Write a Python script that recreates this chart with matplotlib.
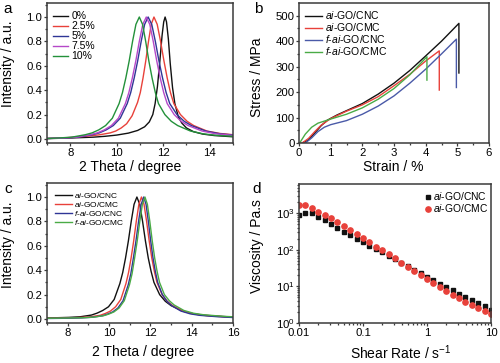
import matplotlib
matplotlib.use('Agg')
import matplotlib.pyplot as plt
from matplotlib.ticker import (MultipleLocator, LogLocator, NullFormatter, FixedLocator,
                               FixedFormatter, FormatStrFormatter)

plt.rcParams['font.family'] = ['Liberation Sans', 'DejaVu Sans']
plt.rcParams['mathtext.fontset'] = 'custom'
plt.rcParams['mathtext.rm'] = 'Liberation Sans'
plt.rcParams['mathtext.it'] = 'Liberation Sans:italic'
plt.rcParams['mathtext.bf'] = 'Liberation Sans:bold'

# ---------------- Panel a: XRD, GO content ----------------
a_labels = ['0%', '2.5%', '5%', '7.5%', '10%']
a0_x = [7.0, 8.0, 9.0, 9.5, 10.0, 10.5, 10.9, 11.2, 11.4, 11.55, 11.65, 11.75, 11.85, 11.95, 12.02, 12.08,
        12.14, 12.22, 12.3, 12.4, 12.5, 12.65, 12.8, 13.0, 13.3, 13.7, 14.2, 15.0]
a0_y = [0.003, 0.008, 0.015, 0.022, 0.032, 0.048, 0.07, 0.1, 0.14, 0.2, 0.29, 0.43, 0.63, 0.85, 0.96, 1.0,
        0.96, 0.82, 0.62, 0.42, 0.29, 0.18, 0.13, 0.09, 0.06, 0.04, 0.028, 0.018]
a25_x = [7.0, 8.0, 8.78, 9.25, 9.72, 9.955, 10.19, 10.425, 10.66, 10.895, 11.0125, 11.13, 11.2475, 11.365, 11.4825, 11.6,
         11.74, 11.885, 12.03, 12.17, 12.31, 12.455, 12.74, 13.025, 13.31, 13.88, 14.45, 15.0]
a25_y = [0.004, 0.012, 0.024, 0.034, 0.05, 0.065, 0.09, 0.125, 0.19, 0.3, 0.38, 0.5, 0.64, 0.8, 0.94, 1.0,
         0.94, 0.8, 0.64, 0.5, 0.38, 0.29, 0.2, 0.145, 0.11, 0.065, 0.045, 0.035]
a5_x = [7.0, 7.75, 8.35, 8.95, 9.25, 9.55, 9.85, 10.15, 10.45, 10.6, 10.75, 10.9, 11.05, 11.2, 11.35,
        11.505, 11.66, 11.815, 11.97, 12.125, 12.28, 12.59, 12.9, 13.21, 13.83, 14.45, 15.0]
a5_y = [0.004, 0.008, 0.015, 0.035, 0.05, 0.075, 0.11, 0.17, 0.29, 0.38, 0.5, 0.64, 0.8, 0.94, 1.0,
        0.94, 0.8, 0.64, 0.5, 0.38, 0.29, 0.2, 0.145, 0.11, 0.065, 0.042, 0.033]
a75_x = [7.0, 7.67, 8.27, 8.87, 9.17, 9.47, 9.77, 10.07, 10.37, 10.52, 10.67, 10.82, 10.97, 11.12, 11.27,
         11.42, 11.57, 11.72, 11.87, 12.02, 12.17, 12.47, 12.77, 13.07, 13.67, 14.27, 15.0]
a75_y = [0.004, 0.008, 0.015, 0.035, 0.05, 0.075, 0.11, 0.17, 0.29, 0.38, 0.5, 0.64, 0.8, 0.94, 1.0,
         0.94, 0.8, 0.64, 0.5, 0.38, 0.29, 0.2, 0.145, 0.11, 0.065, 0.042, 0.03]
a10_x = [7.0, 7.49, 8.07, 8.65, 8.94, 9.23, 9.52, 9.81, 10.1, 10.245, 10.39, 10.535, 10.68, 10.825, 10.97,
         11.11, 11.245, 11.38, 11.52, 11.66, 11.795, 12.07, 12.345, 12.62, 13.17, 13.72, 14.27, 15.0]
a10_y = [0.004, 0.008, 0.015, 0.035, 0.05, 0.075, 0.11, 0.17, 0.29, 0.38, 0.5, 0.64, 0.8, 0.94, 1.0,
         0.94, 0.8, 0.64, 0.5, 0.38, 0.29, 0.2, 0.145, 0.11, 0.065, 0.042, 0.03, 0.022]

# ---------------- Panel b: stress-strain ----------------
b_labels = [r'$\mathit{ai}$-GO/CNC', r'$\mathit{ai}$-GO/CMC',
            r'$\mathit{f}$-$\mathit{ai}$-GO/CNC', r'$\mathit{f}$-$\mathit{ai}$-GO/CMC']
b1_x = [0.1, 0.3, 0.5, 0.7, 0.9, 1.2, 1.5, 2.0, 2.5, 3.0, 3.5, 4.0, 4.5, 5.05, 5.05]
b1_y = [0, 12, 40, 68, 90, 110, 127, 155, 192, 235, 285, 342, 400, 470, 275]
b2_x = [0.1, 0.3, 0.5, 0.7, 1.0, 1.5, 2.0, 2.5, 3.0, 3.5, 4.0, 4.43, 4.43]
b2_y = [0, 18, 45, 70, 96, 125, 150, 182, 225, 270, 322, 362, 208]
b3_x = [0.2, 0.4, 0.6, 0.8, 1.0, 1.5, 2.0, 2.5, 3.0, 3.5, 4.0, 4.5, 4.97, 4.97]
b3_y = [0, 20, 45, 62, 72, 88, 113, 145, 185, 235, 290, 350, 408, 218]
b4_x = [0.02, 0.2, 0.4, 0.6, 0.8, 1.0, 1.5, 2.0, 2.5, 3.0, 3.5, 4.04, 4.04]
b4_y = [0, 35, 62, 78, 86, 94, 113, 138, 172, 214, 268, 339, 247]

# ---------------- Panel c: XRD, films ----------------
c1_x = [7.0, 8.05, 8.6, 9.15, 9.425, 9.7, 9.975, 10.25, 10.525, 10.6625, 10.8, 10.9375, 11.075, 11.2125, 11.35,
        11.4875, 11.625, 11.7625, 11.9, 12.0375, 12.175, 12.45, 12.725, 13.0, 13.55, 14.1, 14.65, 15.75, 16.0]
c1_y = [0.008, 0.013, 0.018, 0.032, 0.048, 0.07, 0.1, 0.16, 0.29, 0.38, 0.5, 0.64, 0.8, 0.94, 1.0,
        0.94, 0.8, 0.64, 0.5, 0.39, 0.3, 0.2, 0.145, 0.11, 0.065, 0.042, 0.03, 0.018, 0.016]
c2_x = [7.0, 8.0, 8.57, 9.07, 9.57, 9.82, 10.07, 10.32, 10.57, 10.82, 10.945, 11.07, 11.195, 11.32, 11.445, 11.57,
        11.695, 11.82, 11.945, 12.07, 12.195, 12.32, 12.57, 12.82, 13.07, 13.57, 14.07, 14.57, 15.57, 16.0]
c2_y = [0.006, 0.009, 0.012, 0.017, 0.03, 0.045, 0.065, 0.1, 0.16, 0.29, 0.38, 0.5, 0.64, 0.8, 0.94, 1.0,
        0.94, 0.8, 0.64, 0.5, 0.39, 0.3, 0.2, 0.145, 0.11, 0.065, 0.042, 0.03, 0.018, 0.015]
c3_x = [7.0, 8.0, 8.68, 9.18, 9.68, 9.93, 10.18, 10.43, 10.68, 10.93, 11.055, 11.18, 11.305, 11.43, 11.555, 11.68,
        11.7925, 11.905, 12.0175, 12.13, 12.2425, 12.355, 12.58, 12.805, 13.03, 13.48, 13.93, 14.38, 15.28, 16.0]
c3_y = [0.004, 0.006, 0.009, 0.014, 0.026, 0.04, 0.058, 0.09, 0.15, 0.28, 0.37, 0.5, 0.64, 0.8, 0.94, 1.0,
        0.94, 0.8, 0.64, 0.5, 0.39, 0.3, 0.2, 0.145, 0.11, 0.065, 0.042, 0.03, 0.018, 0.012]
c4_x = [7.0, 8.0, 8.74, 9.24, 9.74, 9.99, 10.24, 10.49, 10.74, 10.99, 11.115, 11.24, 11.365, 11.49, 11.615, 11.74,
        11.8575, 11.975, 12.0925, 12.21, 12.3275, 12.445, 12.68, 12.915, 13.15, 13.62, 14.09, 14.56, 15.5, 16.0]
c4_y = [0.006, 0.008, 0.01, 0.015, 0.027, 0.04, 0.058, 0.09, 0.15, 0.28, 0.37, 0.5, 0.64, 0.8, 0.94, 1.0,
        0.94, 0.8, 0.64, 0.5, 0.39, 0.3, 0.2, 0.15, 0.115, 0.07, 0.047, 0.035, 0.022, 0.018]

# ---------------- Panel d: viscosity ----------------
d_labels = [r'$\mathit{ai}$-GO/CNC', r'$\mathit{ai}$-GO/CMC']
d_rate = [0.01, 0.0126, 0.0158, 0.02, 0.0251, 0.0316, 0.0398, 0.0501, 0.0631, 0.0794,
          0.1, 0.126, 0.158, 0.2, 0.251, 0.316, 0.398, 0.501, 0.631, 0.794,
          1.0, 1.26, 1.58, 2.0, 2.51, 3.16, 3.98, 5.01, 6.31, 7.94, 10.0]
d_cnc = [900, 1043, 1000, 811, 658, 512, 406, 316, 257, 204,
         162, 131, 104, 85, 69, 56, 45, 36, 28.5, 22.6,
         18, 14.6, 11.8, 9.6, 7.8, 6.4, 5.3, 4.3, 3.5, 2.85, 2.2]
d_cmc = [1653, 1722, 1369, 1110, 901, 731, 568, 451, 351, 273,
         208, 162, 123, 96, 78, 58, 45, 35, 26.7, 20.4,
         15.8, 12.3, 9.6, 7.6, 5.9, 4.7, 3.7, 3.1, 2.56, 2.17, 1.8]

BLACK = '#111111'
RED = '#e8413a'
BLUE = '#2f3596'
PURPLE = '#b548c8'
GREEN = '#23913a'
BLUE_B = '#4a5aa8'
GREEN_B = '#4aab46'

W, H = 500.0, 363.0
fig = plt.figure(figsize=(5.0, 3.63), dpi=100)


def add_ax(l, t, r, b):
    return fig.add_axes([l / W, 1 - b / H, (r - l) / W, (b - t) / H])


ax_a = add_ax(47, 3, 233, 143)
ax_b = add_ax(299, 3, 489, 143)
ax_c = add_ax(47, 183, 233, 323)
ax_d = add_ax(299, 184, 491, 323)

TICK_FS = 8.2
LABEL_FS = 10
for ax in (ax_a, ax_b, ax_c, ax_d):
    for s in ax.spines.values():
        s.set_linewidth(1.1)
        s.set_color('#3a3a3a')
    ax.tick_params(which='both', direction='out', labelsize=TICK_FS, width=0.9, color='#3a3a3a', pad=1.0)
    ax.tick_params(which='major', length=2.3)
    ax.tick_params(which='minor', length=1.6)

LW = 1.0
leg_kw = dict(frameon=False, borderpad=0.0, borderaxespad=0.0, labelspacing=0.0)

# Panel a
for xs, ys, col, lab in [(a0_x, a0_y, BLACK, a_labels[0]), (a25_x, a25_y, RED, a_labels[1]),
                         (a5_x, a5_y, BLUE, a_labels[2]), (a75_x, a75_y, PURPLE, a_labels[3]),
                         (a10_x, a10_y, GREEN, a_labels[4])]:
    ax_a.plot(xs, ys, color=col, lw=LW, label=lab)
ax_a.set_xlim(7, 15)
ax_a.set_ylim(-0.033, 1.115)
ax_a.xaxis.set_major_locator(FixedLocator([8, 10, 12, 14]))
ax_a.xaxis.set_minor_locator(FixedLocator([7, 9, 11, 13, 15]))
ax_a.yaxis.set_major_locator(MultipleLocator(0.2))
ax_a.yaxis.set_minor_locator(MultipleLocator(0.1))
ax_a.yaxis.set_major_formatter(FormatStrFormatter('%.1f'))
ax_a.set_xlabel('2 Theta / degree', fontsize=LABEL_FS)
ax_a.set_ylabel('Intensity / a.u.', fontsize=LABEL_FS)
ax_a.xaxis.set_label_coords(0.449, -0.122)
ax_a.yaxis.set_label_coords(-0.172, 0.564)
ax_a.legend(loc='upper left', bbox_to_anchor=(0.032, 0.94), fontsize=7.5,
            handlelength=1.45, handletextpad=0.3, **leg_kw)

# Panel b
for xs, ys, col, lab in [(b1_x, b1_y, BLACK, b_labels[0]), (b2_x, b2_y, RED, b_labels[1]),
                         (b3_x, b3_y, BLUE_B, b_labels[2]), (b4_x, b4_y, GREEN_B, b_labels[3])]:
    ax_b.plot(xs, ys, color=col, lw=LW, label=lab)
ax_b.set_xlim(0, 6)
ax_b.set_ylim(0, 550)
ax_b.xaxis.set_major_locator(MultipleLocator(1))
ax_b.xaxis.set_minor_locator(MultipleLocator(0.5))
ax_b.yaxis.set_major_locator(FixedLocator([0, 100, 200, 300, 400, 500]))
ax_b.yaxis.set_minor_locator(FixedLocator([50, 150, 250, 350, 450]))
ax_b.set_xlabel('Strain / %', fontsize=LABEL_FS)
ax_b.set_ylabel('Stress / MPa', fontsize=LABEL_FS)
ax_b.xaxis.set_label_coords(0.495, -0.122)
ax_b.yaxis.set_label_coords(-0.184, 0.468)
ax_b.legend(loc='upper left', bbox_to_anchor=(0.032, 0.955), fontsize=7.5,
            handlelength=1.65, handletextpad=0.3, **leg_kw)

# Panel c
for xs, ys, col, lab in [(c1_x, c1_y, BLACK, b_labels[0]), (c2_x, c2_y, RED, b_labels[1]),
                         (c3_x, c3_y, BLUE, b_labels[2]), (c4_x, c4_y, GREEN_B, b_labels[3])]:
    ax_c.plot(xs, ys, color=col, lw=LW, label=lab)
ax_c.set_xlim(7, 16)
ax_c.set_ylim(-0.033, 1.115)
ax_c.xaxis.set_major_locator(FixedLocator([8, 10, 12, 14, 16]))
ax_c.xaxis.set_minor_locator(FixedLocator([7, 9, 11, 13, 15]))
ax_c.yaxis.set_major_locator(MultipleLocator(0.2))
ax_c.yaxis.set_minor_locator(MultipleLocator(0.1))
ax_c.yaxis.set_major_formatter(FormatStrFormatter('%.1f'))
ax_c.set_xlabel('2 Theta / degree', fontsize=LABEL_FS)
ax_c.set_ylabel('Intensity / a.u.', fontsize=LABEL_FS)
ax_c.xaxis.set_label_coords(0.516, -0.16)
ax_c.yaxis.set_label_coords(-0.172, 0.557)
ax_c.legend(loc='upper left', bbox_to_anchor=(0.043, 0.945), fontsize=6.0,
            handlelength=2.0, handletextpad=0.25, **leg_kw)

# Panel d
ax_d.plot(d_rate, d_cnc, ls='none', marker='s', ms=3.4, color=BLACK, label=d_labels[0])
ax_d.plot(d_rate, d_cmc, ls='none', marker='o', ms=3.8, color=RED, label=d_labels[1])
ax_d.set_xscale('log')
ax_d.set_yscale('log')
ax_d.set_xlim(0.01, 10)
ax_d.set_ylim(1, 10 ** 3.8)
ax_d.xaxis.set_major_locator(FixedLocator([0.01, 0.1, 1, 10]))
ax_d.xaxis.set_major_formatter(FixedFormatter(['0.01', '0.1', '1', '10']))
ax_d.xaxis.set_minor_locator(LogLocator(base=10, subs=range(2, 10)))
ax_d.xaxis.set_minor_formatter(NullFormatter())
ax_d.yaxis.set_major_locator(FixedLocator([1, 10, 100, 1000]))
ax_d.yaxis.set_major_formatter(FixedFormatter([r'$10^0$', r'$10^1$', r'$10^2$', r'$10^3$']))
ax_d.yaxis.set_minor_locator(LogLocator(base=10, subs=range(2, 10)))
ax_d.yaxis.set_minor_formatter(NullFormatter())
ax_d.set_xlabel(r'Shear Rate / s$^{-1}$', fontsize=LABEL_FS)
ax_d.set_ylabel('Viscosity / Pa.s', fontsize=LABEL_FS)
ax_d.xaxis.set_label_coords(0.53, -0.15)
ax_d.yaxis.set_label_coords(-0.182, 0.55)
ax_d.legend(loc='upper right', bbox_to_anchor=(0.985, 0.955), fontsize=7.4,
            handlelength=0.6, handletextpad=0.2, **leg_kw)

# panel letters
for x, y, t in [(8, 9, 'a'), (258, 9, 'b'), (8, 189, 'c'), (257, 189, 'd')]:
    fig.text(x / W, 1 - y / H, t, fontsize=11, ha='center', va='center')

fig.savefig('out.png', dpi=100)
